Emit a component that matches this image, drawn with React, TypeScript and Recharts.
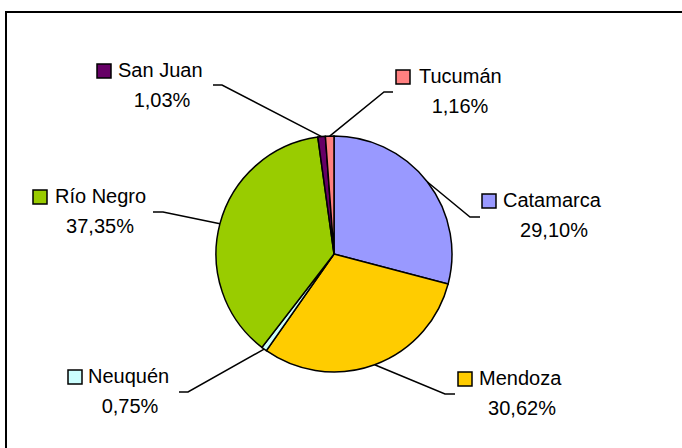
import { PieChart, Pie, Cell } from 'recharts'

const provinces = ['Catamarca', 'Mendoza', 'Neuquén', 'Río Negro', 'San Juan', 'Tucumán']
const shares = [29.1, 30.62, 0.75, 37.35, 1.03, 1.16]
const colors = ['#9999FF', '#FFCC00', '#CCFFFF', '#99CC00', '#660066', '#FF8080']

const data = provinces.map((name, i) => ({ name, value: shares[i] }))

// label placement, offsets from the pie centre
const labelLayout = [
  { elbow: [136, -37], end: [146, -37], sq: 148, nameX: 169, base: -47, pctX: 220 },
  { elbow: [111, 140], end: [121, 140], sq: 124, nameX: 145, base: 131, pctX: 188 },
  { elbow: [-146, 138], end: [-155, 138], sq: -266, nameX: -246, base: 129, pctX: -204 },
  { elbow: [-171, -42], end: [-181, -42], sq: -301, nameX: -279, base: -51, pctX: -234 },
  { elbow: [-112, -169], end: [-121, -169], sq: -237, nameX: -216, base: -177, pctX: -172 },
  { elbow: [50, -162], end: [59, -162], sq: 62, nameX: 85, base: -171, pctX: 126 },
]

const RADIAN = Math.PI / 180
const FONT = '"Liberation Sans", Arial, sans-serif'

const fmt = (v: number) => v.toFixed(2).replace('.', ',') + '%'

function renderLabel(props: any) {
  const { cx, cy, midAngle, outerRadius, index, name, value } = props
  const l = labelLayout[index]
  const sx = cx + outerRadius * Math.cos(-midAngle * RADIAN)
  const sy = cy + outerRadius * Math.sin(-midAngle * RADIAN)
  const ex = cx + l.elbow[0]
  const ey = cy + l.elbow[1]
  return (
    <g key={`lbl-${index}`}>
      <polyline
        points={`${sx},${sy} ${ex},${ey} ${cx + l.end[0]},${cy + l.end[1]}`}
        fill="none"
        stroke="#000"
        strokeWidth={1.5}
      />
      <rect
        x={cx + l.sq}
        y={cy + l.base - 13}
        width={14}
        height={14}
        fill={colors[index]}
        stroke="#000"
        strokeWidth={1.5}
      />
      <text x={cx + l.nameX} y={cy + l.base} fontSize={20} fontFamily={FONT} fill="#000" textAnchor="start">
        {name}
      </text>
      <text x={cx + l.pctX} y={cy + l.base + 30} fontSize={20} fontFamily={FONT} fill="#000" textAnchor="middle">
        {fmt(value)}
      </text>
    </g>
  )
}

export default function App() {
  return (
    <div style={{ position: 'absolute', left: 0, top: 0, width: 682, height: 448, overflow: 'hidden', background: '#fff' }}>
      <div
        style={{
          position: 'absolute',
          left: 5,
          top: 11,
          width: 720,
          height: 500,
          border: '2px solid #000',
        }}
      />
      <div style={{ position: 'absolute', left: 0, top: 0 }}>
        <PieChart width={682} height={448} margin={{ top: 0, right: 0, bottom: 0, left: 0 }}>
          <Pie
            data={data}
            dataKey="value"
            nameKey="name"
            cx={334}
            cy={254}
            outerRadius={118}
            startAngle={90}
            endAngle={-270}
            stroke="#000"
            strokeWidth={1.5}
            labelLine={false}
            label={renderLabel}
            isAnimationActive={false}
          >
            {data.map((_, i) => (
              <Cell key={`cell-${i}`} fill={colors[i]} />
            ))}
          </Pie>
        </PieChart>
      </div>
    </div>
  )
}
